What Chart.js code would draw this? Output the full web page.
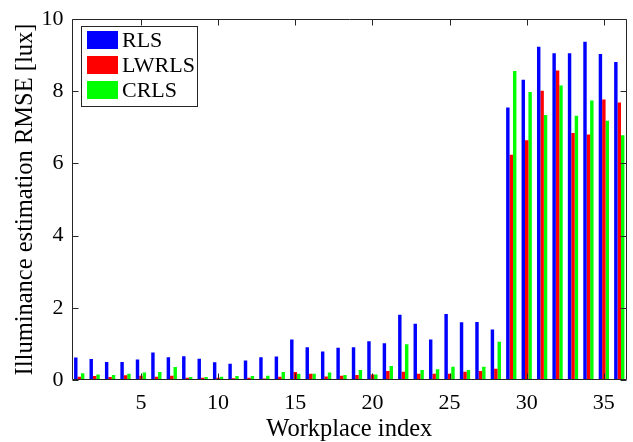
<!DOCTYPE html>
<html>
<head>
<meta charset="utf-8">
<script src="https://cdn.jsdelivr.net/npm/chart.js@4"></script>
<style>
html,body{margin:0;padding:0;background:#fff;}
#wrap{width:633px;height:442px;}
</style>
</head>
<body>
<div id="wrap"><canvas id="c" width="633" height="442"></canvas></div>
<script>
const categories = ['1','2','3','4','5','6','7','8','9','10','11','12','13','14','15','16','17','18','19','20','21','22','23','24','25','26','27','28','29','30','31','32','33','34','35','36'];
const seriesNames = ['RLS','LWRLS','CRLS'];
const rls   = [0.62,0.58,0.50,0.50,0.57,0.76,0.63,0.66,0.59,0.49,0.45,0.54,0.63,0.65,1.12,0.91,0.79,0.89,0.91,1.07,1.02,1.81,1.56,1.12,1.83,1.60,1.61,1.40,7.55,8.32,9.23,9.05,9.05,9.37,9.03,8.81];
const lwrls = [0.09,0.11,0.08,0.13,0.12,0.09,0.12,0.06,0.06,0.06,0.05,0.06,0.04,0.09,0.22,0.17,0.10,0.12,0.14,0.15,0.25,0.23,0.17,0.17,0.17,0.23,0.25,0.31,6.24,6.64,8.01,8.57,6.84,6.80,7.77,7.69];
const crls  = [0.19,0.15,0.14,0.17,0.21,0.22,0.36,0.08,0.08,0.09,0.11,0.11,0.12,0.22,0.17,0.17,0.21,0.14,0.28,0.15,0.39,0.99,0.28,0.30,0.37,0.28,0.37,1.06,8.56,7.98,7.34,8.16,7.32,7.74,7.18,6.78];
const xTickLabels = ['5','10','15','20','25','30','35'];
const yTicks = [0,2,4,6,8,10];
const colors = ['#0000ff','#ff0000','#00ff00'];

const FONT = "'Liberation Serif', 'Times New Roman', serif";
const AXIS = '#262626';

const boxPlugin = {
  id: 'matlabBox',
  afterDraw(chart) {
    const ctx = chart.ctx;
    const a = chart.chartArea;
    const xs = chart.scales.x, ys = chart.scales.y;
    ctx.save();
    ctx.strokeStyle = AXIS;
    ctx.lineWidth = 1;
    const L = Math.round(a.left) + 0.5, R = Math.round(a.right) - 0.5;
    const T = Math.round(a.top) + 0.5, B = Math.round(a.bottom) - 0.5;
    ctx.beginPath();
    ctx.rect(L, T, R - L, B - T);
    ctx.stroke();
    ctx.beginPath();
    yTicks.forEach(v => {
      const y = Math.round(ys.getPixelForValue(v)) + 0.5;
      ctx.moveTo(L, y); ctx.lineTo(L + 6, y);
      ctx.moveTo(R, y); ctx.lineTo(R - 6, y);
    });
    categories.forEach((c, i) => {
      if (xTickLabels.includes(c)) {
        const x = Math.round(xs.getPixelForValue(i)) + 0.5;
        ctx.moveTo(x, B); ctx.lineTo(x, B - 6);
        ctx.moveTo(x, T); ctx.lineTo(x, T + 6);
      }
    });
    ctx.stroke();

    // legend
    const lx = 81.5, ly = 26.5, lw = 116, lh = 80;
    ctx.fillStyle = '#fff';
    ctx.fillRect(lx, ly, lw, lh);
    ctx.strokeStyle = AXIS;
    ctx.strokeRect(lx, ly, lw, lh);
    ctx.font = "22px " + FONT;
    ctx.textBaseline = 'middle';
    chart.data.datasets.forEach((ds, i) => {
      const cy = 40 + i * 25;
      ctx.fillStyle = ds.backgroundColor;
      ctx.fillRect(87, cy - 9, 31, 18);
      ctx.fillStyle = '#000';
      ctx.fillText(ds.label, 122, cy + 1);
    });
    ctx.restore();
  }
};

new Chart(document.getElementById('c'), {
  type: 'bar',
  data: {
    labels: categories,
    datasets: [rls, lwrls, crls].map((d, i) => ({
      label: seriesNames[i],
      data: d,
      backgroundColor: colors[i],
      borderWidth: 0,
      categoryPercentage: 0.667,
      barPercentage: 1.0
    }))
  },
  options: {
    responsive: false,
    animation: false,
    devicePixelRatio: 1,
    layout: { padding: { left: 0, right: 6, top: 16, bottom: 0 } },
    plugins: { legend: { display: false }, tooltip: { enabled: false } },
    scales: {
      x: {
        grid: { display: false, drawTicks: false },
        border: { display: false },
        ticks: {
          autoSkip: false, maxRotation: 0, padding: 12,
          color: '#000',
          font: { family: FONT, size: 22, lineHeight: 1 },
          callback: (v, i) => xTickLabels.includes(categories[i]) ? categories[i] : ''
        },
        title: { display: true, text: 'Workplace index', color: '#000',
          font: { family: FONT, size: 24.5, lineHeight: 1 }, padding: { top: 6, bottom: 0 } },
        afterFit(s) { s.height = 62; }
      },
      y: {
        min: 0, max: 10,
        grid: { display: false, drawTicks: false },
        border: { display: false },
        ticks: {
          stepSize: 2, padding: 8, color: '#000',
          font: { family: FONT, size: 22, lineHeight: 1 }
        },
        title: { display: true, text: 'Illuminance estimation RMSE [lux]', color: '#000',
          font: { family: FONT, size: 24.5, lineHeight: 1 }, padding: { top: 13, bottom: 4 } },
        afterFit(s) { s.width = 71.5; }
      }
    }
  },
  plugins: [boxPlugin]
});
</script>
</body>
</html>
